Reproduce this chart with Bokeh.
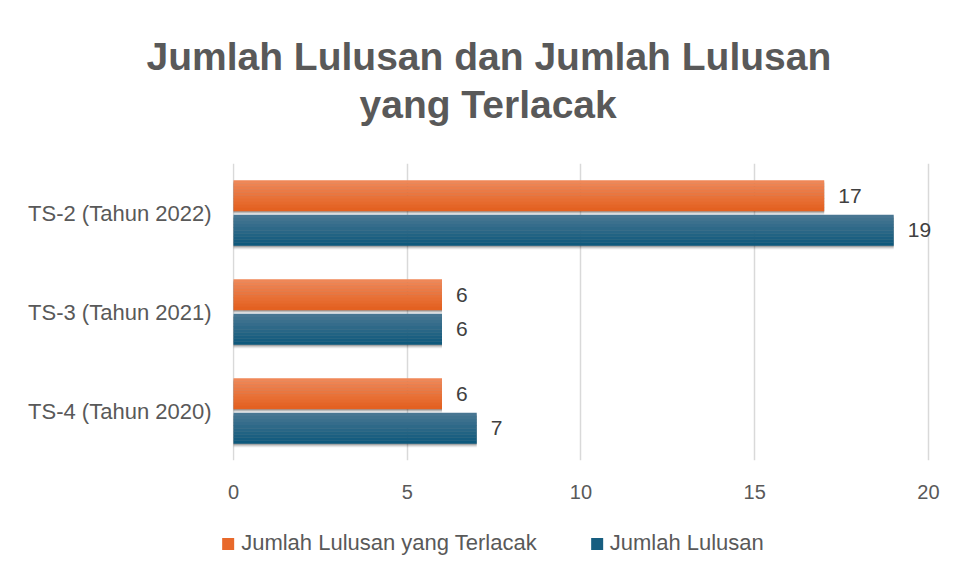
from bokeh.plotting import figure
from bokeh.layouts import column, row
from bokeh.models import ColumnDataSource, Range1d, FactorRange, Legend, LegendItem, Title, FixedTicker
from bokeh.transform import dodge
from bokeh.core.properties import value
from bokeh.embed import file_html
from bokeh.resources import INLINE

# ---- data ----
categories = ["TS-2 (Tahun 2022)", "TS-3 (Tahun 2021)", "TS-4 (Tahun 2020)"]
terlacak = [17, 6, 6]
lulusan = [19, 6, 7]
series_names = ["Jumlah Lulusan yang Terlacak", "Jumlah Lulusan"]
x_ticks = [0, 5, 10, 15, 20]
title_lines = ["Jumlah Lulusan dan Jumlah Lulusan", "yang Terlacak"]

src = ColumnDataSource(dict(
    cat=categories,
    terlacak=terlacak,
    lulusan=lulusan,
    lab_t=[str(v) for v in terlacak],
    lab_l=[str(v) for v in lulusan],
))

GRAY = "#595959"
p = figure(
    width=940, height=508,
    y_range=FactorRange(factors=list(reversed(categories))),
    x_range=Range1d(-0.029, 20.26),
    output_backend="svg", toolbar_location=None, title=None,
    min_border_left=232, min_border_right=3, min_border_top=163, min_border_bottom=48,
)
p.outline_line_color = None
p.background_fill_color = "white"
p.border_fill_color = "white"

# title block: spacer (innermost), second line, first line
spacer = Title(text=" ", text_font_size="10px", standoff=25)
p.add_layout(spacer, "above")
t2 = Title(text=title_lines[1], align="left", offset=127, text_font_size="39px",
           text_font_style="bold", text_color=GRAY, text_font="Liberation Sans", standoff=0)
p.add_layout(t2, "above")
t1 = Title(text=title_lines[0], align="left", offset=-86, text_font_size="39px",
           text_font_style="bold", text_color=GRAY, text_font="Liberation Sans", standoff=6)
p.add_layout(t1, "above")

# axes
p.xaxis.ticker = FixedTicker(ticks=x_ticks)
p.xaxis.axis_line_color = None
p.xaxis.major_tick_line_color = None
p.xaxis.minor_tick_line_color = None
p.xaxis.major_label_text_font = "Liberation Sans"
p.xaxis.major_label_text_font_size = "20px"
p.xaxis.major_label_text_color = GRAY
p.xaxis.major_label_standoff = 18

p.yaxis.axis_line_color = None
p.yaxis.major_tick_line_color = None
p.yaxis.minor_tick_line_color = None
p.yaxis.major_label_text_font = "Liberation Sans"
p.yaxis.major_label_text_font_size = "22px"
p.yaxis.major_label_text_color = GRAY
p.yaxis.major_label_standoff = 15

p.ygrid.grid_line_color = None
p.xgrid.grid_line_color = "#D9D9D9"
p.xgrid.grid_line_width = 1.5

# bars with vertical gradient simulated by strips
H = 0.31
OFF = 0.175
N = 10

def interp(c1, c2, t):
    a = [int(c1[i:i + 2], 16) for i in (1, 3, 5)]
    b = [int(c2[i:i + 2], 16) for i in (1, 3, 5)]
    return "#%02x%02x%02x" % tuple(round(a[k] + (b[k] - a[k]) * t) for k in range(3))

series = [
    ("terlacak", OFF, "#F0895A", "#E25F1E"),
    ("lulusan", -OFF, "#4B7893", "#0B577B"),
]
for col, off, ctop, cbot in series:
    # shadow
    for dy, a in [(-0.035, 0.10), (-0.022, 0.15), (-0.012, 0.2)]:
        p.hbar(y=dodge("cat", off + dy, range=p.y_range), right=col, left=0, height=H,
               source=src, fill_color="#000000", fill_alpha=a, line_color=None)
    for i in range(N):
        c = interp(ctop, cbot, (i + 0.5) / N)
        yc = off + H / 2 - (i + 0.5) * H / N
        p.hbar(y=dodge("cat", yc, range=p.y_range), right=col, left=0, height=H / N + 0.003,
               source=src, fill_color=c, line_color=None)

# value labels
p.text(x="terlacak", y=dodge("cat", OFF, range=p.y_range), text="lab_t", source=src,
       x_offset=14, text_baseline="middle", text_font=value("Liberation Sans"),
       text_font_size="21px", text_color="#404040")
p.text(x="lulusan", y=dodge("cat", -OFF, range=p.y_range), text="lab_l", source=src,
       x_offset=14, text_baseline="middle", text_font=value("Liberation Sans"),
       text_font_size="21px", text_color="#404040")

# legend strip below the chart
p2 = figure(width=940, height=55, x_range=Range1d(0, 1), y_range=Range1d(0, 1),
            x_axis_type=None, y_axis_type=None, output_backend="svg", toolbar_location=None,
            min_border_left=44, min_border_right=0, min_border_top=15, min_border_bottom=0,
            title=None)
p2.outline_line_color = None
# zero-size bars outside the visible range: they exist only to give the legend its swatches
r_t = p2.hbar(y="terlacak", left="terlacak", right="terlacak", height=0, source=src,
              fill_color="#E8692B", line_color=None)
r_l = p2.hbar(y="lulusan", left="lulusan", right="lulusan", height=0, source=src,
              fill_color="#175E80", line_color=None)
legend = Legend(
    items=[LegendItem(label=series_names[0], renderers=[r_t], index=0),
           LegendItem(label=series_names[1], renderers=[r_l], index=0)],
    orientation="horizontal", location="center",
    label_text_font="Liberation Sans", label_text_font_size="22px", label_text_color=GRAY,
    glyph_width=15, glyph_height=15, label_standoff=6, spacing=52,
    border_line_color=None, background_fill_alpha=0, padding=4, margin=0,
)
p2.add_layout(legend, "center")

open("out.html", "w").write(file_html(column(p, row(p2), spacing=0), INLINE))
